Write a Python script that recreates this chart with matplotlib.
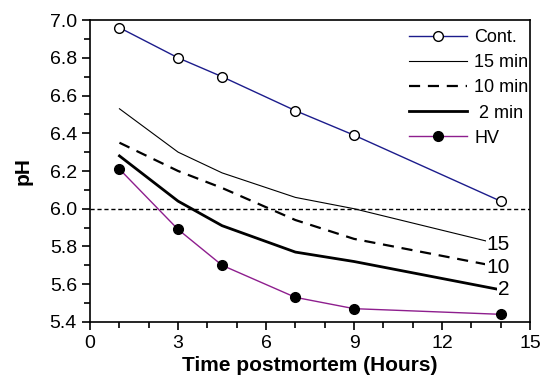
import matplotlib.pyplot as plt
from matplotlib.ticker import MultipleLocator

plt.rcParams['font.family'] = ['Liberation Sans', 'DejaVu Sans']

# sampling times (hours postmortem)
hours = [1, 3, 4.5, 7, 9, 14]

# pH values
phCont = [6.96, 6.80, 6.70, 6.52, 6.39, 6.04]
ph15 = [6.53, 6.30, 6.19, 6.06, 6.00, 5.81]
ph10 = [6.35, 6.20, 6.11, 5.94, 5.84, 5.69]
ph2 = [6.28, 6.04, 5.91, 5.77, 5.72, 5.57]
phHV = [6.21, 5.89, 5.70, 5.53, 5.47, 5.44]

endLabels = ["15", "10", "2"]


def drawPhChart(outputImageFileName):
	fig = plt.figure(figsize=(5.43, 3.80), dpi=100)
	ax = fig.add_axes([0.166, 0.153, 0.810, 0.794])

	ax.axhline(6.0, color='black', lw=1.0, ls=(0, (3, 2)), zorder=1)

	ax.plot(hours, phCont, color='#1c1c8c', lw=1.0, marker='o', ms=7,
		mfc='white', mec='black', mew=1.0, label='Cont.', zorder=3)
	ax.plot(hours, ph15, color='black', lw=0.8, label='15 min')
	ax.plot(hours, ph10, color='black', lw=1.6, ls=(0, (5, 3.5)), label='10 min')
	ax.plot(hours, ph2, color='black', lw=2.0, label=' 2 min')
	ax.plot(hours, phHV, color='#8e1e8e', lw=1.0, marker='o', ms=7,
		mfc='black', mec='black', label='HV', zorder=3)

	# labels at the right end of the treatment lines (they hide the last bit of line)
	for series, lab in zip([ph15, ph10, ph2], endLabels):
		ax.text(14.3, series[-1], lab, fontsize=15, va='center', ha='right', zorder=4,
			bbox=dict(facecolor='white', edgecolor='none', pad=0.5))

	ax.set_xlim(0, 15)
	ax.set_ylim(5.4, 7.0)
	ax.xaxis.set_major_locator(MultipleLocator(3))
	ax.xaxis.set_minor_locator(MultipleLocator(1))
	ax.yaxis.set_major_locator(MultipleLocator(0.2))
	ax.yaxis.set_minor_locator(MultipleLocator(0.1))
	ax.yaxis.set_major_formatter(plt.FormatStrFormatter('%.1f'))
	ax.tick_params(which='both', direction='out', top=False, right=False, labelsize=14, width=1.2)
	ax.tick_params(which='major', length=6)
	ax.tick_params(which='minor', length=4)
	for sp in ax.spines.values():
		sp.set_linewidth(1.2)

	ax.set_xlabel('Time postmortem (Hours)', fontsize=15, fontweight='bold', labelpad=3)
	ax.set_ylabel('pH', fontsize=15, fontweight='bold', labelpad=12)

	ax.legend(loc='upper right', bbox_to_anchor=(1.025, 1.012), frameon=False, fontsize=13,
		handlelength=3.2, labelspacing=0.45, handletextpad=0.4, borderaxespad=0.3)

	plt.savefig(outputImageFileName, dpi=100)
	plt.close()


def main():
	drawPhChart("out.png")


main()
